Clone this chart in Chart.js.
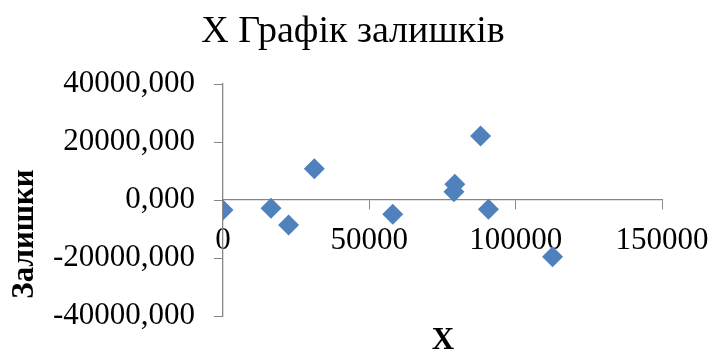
<!DOCTYPE html>
<html>
<head>
<meta charset="utf-8">
<script src="https://cdn.jsdelivr.net/npm/chart.js@4/dist/chart.umd.min.js"></script>
<style>
    html, body { margin: 0; padding: 0; background: #fff; }
    #wrap { width: 712px; height: 353px; }
</style>
</head>
<body>
<div id="wrap"><canvas id="residChart" width="712" height="353"></canvas></div>
<script>
// Données
const xValues = [0, 16400, 22400, 31200, 58000, 78900, 79200, 88000, 90700, 112600];
const residuals = [-3450, -2860, -8620, 10800, -4940, 2870, 5400, 22070, -3220, -19540];
const xTicks = [0, 50000, 100000, 150000];
const yTicks = [-40000, -20000, 0, 20000, 40000];

const serif = "'Liberation Serif', 'Times New Roman', serif";
const axisGrey = '#868686';

// titre + titres des axes placés comme dans Excel
const excelTitles = {
    id: 'excelTitles',
    afterDraw(chart) {
        const ctx = chart.ctx;
        ctx.save();
        ctx.fillStyle = '#000';
        ctx.textAlign = 'center';
        ctx.textBaseline = 'alphabetic';
        ctx.font = '38px ' + serif;
        ctx.fillText('X Графік залишків', 353, 42);
        ctx.font = 'bold 31px ' + serif;
        ctx.fillText('X', 443, 349);
        ctx.restore();

        ctx.save();
        ctx.fillStyle = '#000';
        ctx.font = 'bold 31px ' + serif;
        ctx.textAlign = 'center';
        ctx.textBaseline = 'middle';
        ctx.translate(25, 234);
        ctx.rotate(-Math.PI / 2);
        ctx.fillText('Залишки', 0, 0);
        ctx.restore();
    }
};

new Chart(document.getElementById('residChart'), {
    type: 'scatter',
    data: {
        datasets: [{
            label: 'Залишки',
            data: xValues.map((x, i) => ({ x: x, y: residuals[i] })),
            pointStyle: 'rectRot',
            pointRadius: 10.5,
            pointHoverRadius: 10.5,
            backgroundColor: '#4F81BD',
            borderColor: '#4F81BD',
            borderWidth: 0
        }]
    },
    options: {
        responsive: false,
        animation: false,
        layout: { padding: { top: 84, left: 0, right: 50, bottom: 37 } },
        plugins: {
            legend: { display: false },
            tooltip: { enabled: false },
            title: { display: false }
        },
        scales: {
            x: {
                type: 'linear',
                position: { y: 0 },
                min: 0,
                max: 150000,
                afterBuildTicks: (scale) => { scale.ticks = xTicks.map(v => ({ value: v })); },
                afterFit: (scale) => { scale.paddingLeft = 0; scale.paddingRight = 0; },
                ticks: {
                    color: '#000',
                    font: { family: serif, size: 31 },
                    padding: 13,
                    maxRotation: 0,
                    callback: (v) => String(v)
                },
                grid: { drawOnChartArea: false, drawTicks: true, tickLength: 9, color: axisGrey },
                border: { color: axisGrey, width: 1.3 }
            },
            y: {
                type: 'linear',
                min: -40000,
                max: 40000,
                afterBuildTicks: (scale) => { scale.ticks = yTicks.map(v => ({ value: v })); },
                afterFit: (scale) => {
                    scale.width = 223;
                    scale.paddingTop = 0;
                    scale.paddingBottom = 0;
                },
                ticks: {
                    color: '#000',
                    font: { family: serif, size: 31 },
                    padding: 19,
                    callback: (v) => v.toFixed(3).replace('.', ',')
                },
                grid: { drawOnChartArea: false, drawTicks: true, tickLength: 9, color: axisGrey },
                border: { color: axisGrey, width: 1.3 }
            }
        }
    },
    plugins: [excelTitles]
});
</script>
</body>
</html>
